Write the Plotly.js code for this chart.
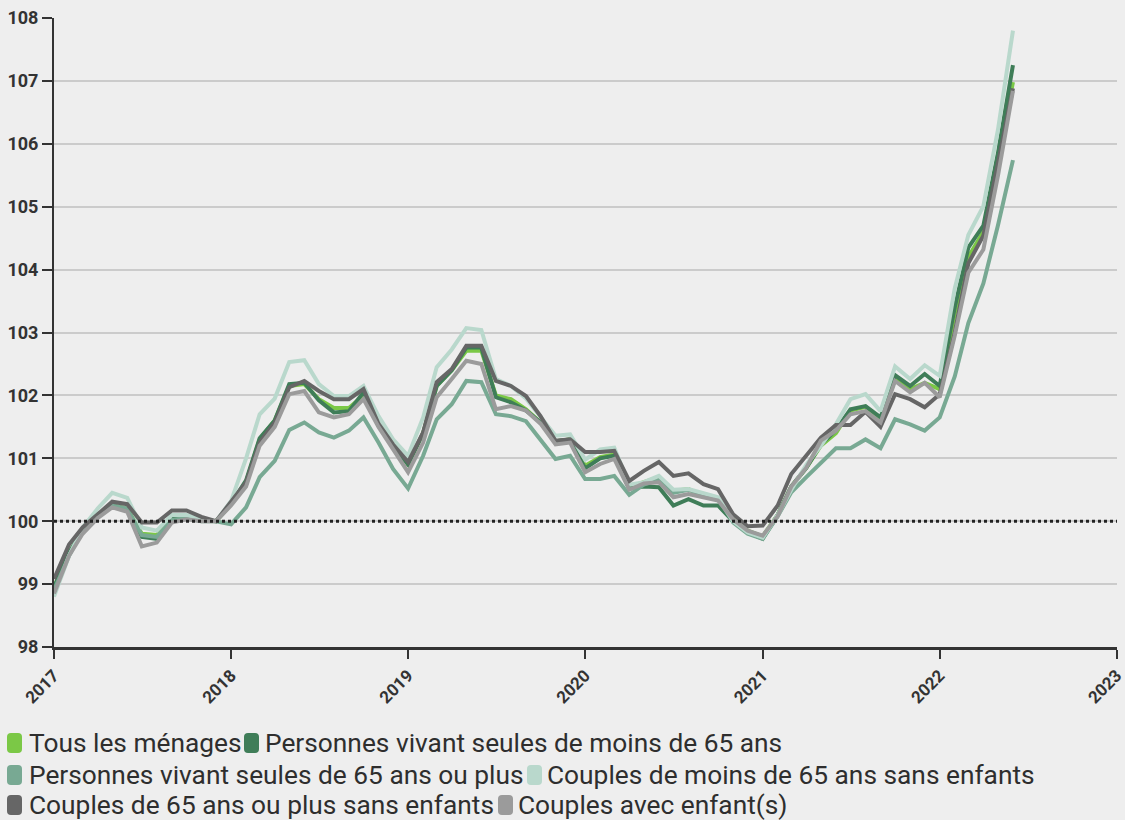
<!DOCTYPE html>
<html>
<head>
<meta charset="utf-8">
<script src="https://cdn.plot.ly/plotly-3.0.1.min.js"></script>
<style>
html,body{margin:0;padding:0;background:#eeeeee;}
#chart{width:1125px;height:820px;}
</style>
</head>
<body>
<div id="chart"></div>
<script>
// Monthly index, Jan 2017 .. Jun 2022
const startYear = 2017;
const nMonths = 66;
const months = [];
for (let i = 0; i < nMonths; i++) {
  const y = startYear + Math.floor(i / 12);
  const m = (i % 12) + 1;
  months.push(y + '-' + (m < 10 ? '0' + m : m) + '-01');
}

const seriesNames = [
  'Tous les ménages',
  'Personnes vivant seules de moins de 65 ans',
  'Personnes vivant seules de 65 ans ou plus',
  'Couples de moins de 65 ans sans enfants',
  'Couples de 65 ans ou plus sans enfants',
  'Couples avec enfant(s)'
];

const tousMenages = [
  98.95, 99.50, 99.85, 100.10, 100.25, 100.20, 99.80, 99.78, 100.05, 100.08, 100.02, 100.00,
  100.27, 100.62, 101.30, 101.60, 102.15, 102.18, 101.94, 101.80, 101.80, 102.00, 101.52, 101.20,
  100.90, 101.40, 102.15, 102.40, 102.71, 102.71, 102.00, 101.94, 101.78, 101.57, 101.27, 101.30,
  100.88, 101.02, 101.06, 100.54, 100.62, 100.70, 100.48, 100.51, 100.40, 100.35, 100.03, 99.85,
  99.76, 100.10, 100.55, 100.85, 101.20, 101.40, 101.76, 101.82, 101.62, 102.26, 102.10, 102.20,
  102.10, 103.30, 104.20, 104.60, 105.74, 106.98
];
const seulesMoins65 = [
  98.95, 99.50, 99.85, 100.10, 100.25, 100.18, 99.75, 99.72, 100.05, 100.08, 100.02, 100.00,
  100.28, 100.65, 101.32, 101.60, 102.18, 102.20, 101.92, 101.73, 101.75, 102.05, 101.52, 101.20,
  100.90, 101.40, 102.15, 102.40, 102.76, 102.76, 101.97, 101.89, 101.76, 101.57, 101.27, 101.30,
  100.84, 101.00, 101.04, 100.52, 100.55, 100.54, 100.25, 100.35, 100.25, 100.25, 100.00, 99.82,
  99.72, 100.10, 100.55, 100.85, 101.22, 101.45, 101.78, 101.83, 101.65, 102.32, 102.15, 102.34,
  102.15, 103.40, 104.35, 104.70, 105.85, 107.25
];
const seules65Plus = [
  98.90, 99.45, 99.85, 100.10, 100.25, 100.20, 99.78, 99.75, 100.02, 100.05, 100.00, 100.00,
  99.95, 100.22, 100.70, 100.96, 101.45, 101.57, 101.41, 101.33, 101.44, 101.65, 101.25, 100.83,
  100.52, 101.04, 101.62, 101.86, 102.23, 102.21, 101.70, 101.67, 101.59, 101.30, 100.99, 101.04,
  100.67, 100.67, 100.72, 100.42, 100.58, 100.66, 100.45, 100.50, 100.42, 100.37, 99.98, 99.80,
  99.72, 100.08, 100.46, 100.70, 100.93, 101.16, 101.16, 101.30, 101.16, 101.62, 101.54, 101.44,
  101.65, 102.30, 103.15, 103.78, 104.70, 105.74
];
const couplesMoins65 = [
  98.80, 99.45, 99.90, 100.20, 100.45, 100.37, 99.90, 99.85, 100.10, 100.10, 100.03, 100.00,
  100.32, 101.00, 101.70, 101.95, 102.53, 102.56, 102.18, 101.99, 101.99, 102.15, 101.67, 101.30,
  101.04, 101.65, 102.45, 102.73, 103.07, 103.04, 102.26, 102.15, 101.95, 101.67, 101.36, 101.38,
  100.98, 101.14, 101.17, 100.58, 100.62, 100.72, 100.50, 100.51, 100.45, 100.38, 100.00, 99.82,
  99.74, 100.10, 100.50, 100.90, 101.20, 101.54, 101.94, 102.02, 101.75, 102.46, 102.26, 102.48,
  102.31, 103.70, 104.55, 105.01, 106.22, 107.80
];
const couples65Plus = [
  99.08, 99.63, 99.90, 100.10, 100.31, 100.27, 99.98, 99.98, 100.17, 100.17, 100.07, 100.00,
  100.30, 100.62, 101.25, 101.57, 102.13, 102.23, 102.07, 101.94, 101.94, 102.10, 101.55, 101.22,
  100.94, 101.41, 102.21, 102.42, 102.79, 102.79, 102.23, 102.15, 101.99, 101.67, 101.28, 101.30,
  101.10, 101.10, 101.12, 100.64, 100.80, 100.94, 100.72, 100.76, 100.59, 100.51, 100.11, 99.92,
  99.93, 100.25, 100.75, 101.04, 101.33, 101.53, 101.53, 101.74, 101.50, 102.02, 101.94, 101.81,
  102.02, 103.00, 104.10, 104.54, 105.69, 106.88
];
const couplesEnfants = [
  98.85, 99.45, 99.80, 100.05, 100.22, 100.15, 99.60, 99.66, 99.98, 100.03, 100.00, 100.00,
  100.25, 100.55, 101.20, 101.50, 102.02, 102.07, 101.73, 101.65, 101.70, 101.94, 101.50, 101.15,
  100.78, 101.25, 101.97, 102.26, 102.55, 102.50, 101.78, 101.83, 101.76, 101.55, 101.22, 101.25,
  100.78, 100.91, 100.99, 100.50, 100.60, 100.62, 100.38, 100.43, 100.38, 100.33, 100.03, 99.85,
  99.77, 100.08, 100.55, 100.85, 101.28, 101.44, 101.70, 101.75, 101.57, 102.23, 102.05, 102.20,
  101.97, 102.95, 103.95, 104.32, 105.49, 106.84
];

const seriesValues = [tousMenages, seulesMoins65, seules65Plus, couplesMoins65, couples65Plus, couplesEnfants];
const seriesColors = ['#7bc846', '#3f7d58', '#78a993', '#b9d8cc', '#666666', '#9b9b9b'];

const yTicks = [98, 99, 100, 101, 102, 103, 104, 105, 106, 107, 108];
const xTicks = ['2017-01-01', '2018-01-01', '2019-01-01', '2020-01-01', '2021-01-01', '2022-01-01', '2023-01-01'];
const xTickText = ['2017', '2018', '2019', '2020', '2021', '2022', '2023'];
const referenceLevel = 100;

const traces = seriesValues.map((vals, i) => ({
  type: 'scatter',
  mode: 'lines',
  x: months,
  y: vals,
  name: seriesNames[i],
  line: {color: seriesColors[i], width: 4, shape: 'linear'},
  showlegend: false,
  hoverinfo: 'x+y+name'
}));

// geometry helpers for the custom legend (pixel -> paper)
const W = 1125, H = 820;
const M = {l: 54, r: 8, t: 18, b: 173};
const PW = W - M.l - M.r, PH = H - M.t - M.b;
const px = x => (x - M.l) / PW;
const py = y => (H - M.b - y) / PH;

function roundRect(x0, y0, x1, y1, r) {
  const X = v => px(v).toFixed(5), Y = v => py(v).toFixed(5);
  return 'M' + X(x0 + r) + ',' + Y(y0) +
    ' L' + X(x1 - r) + ',' + Y(y0) +
    ' Q' + X(x1) + ',' + Y(y0) + ' ' + X(x1) + ',' + Y(y0 + r) +
    ' L' + X(x1) + ',' + Y(y1 - r) +
    ' Q' + X(x1) + ',' + Y(y1) + ' ' + X(x1 - r) + ',' + Y(y1) +
    ' L' + X(x0 + r) + ',' + Y(y1) +
    ' Q' + X(x0) + ',' + Y(y1) + ' ' + X(x0) + ',' + Y(y1 - r) +
    ' L' + X(x0) + ',' + Y(y0 + r) +
    ' Q' + X(x0) + ',' + Y(y0) + ' ' + X(x0 + r) + ',' + Y(y0) + ' Z';
}

// legend layout: [series index, marker x, text x, row center y]
const legendItems = [
  [0, 7, 28, 743],
  [1, 244, 264, 743],
  [2, 7, 28, 775],
  [3, 527, 546, 775],
  [4, 7, 28, 805],
  [5, 498, 517, 805]
];

const shapes = [{
  type: 'line', xref: 'paper', x0: 0, x1: 1, yref: 'y', y0: referenceLevel, y1: referenceLevel,
  line: {color: '#222222', width: 3, dash: 'dot'}, layer: 'above'
}];
const annotations = [];
legendItems.forEach(([si, mx, tx, cy]) => {
  shapes.push({
    type: 'path', xref: 'paper', yref: 'paper',
    path: roundRect(mx, cy - 10, mx + 15, cy + 10, 4),
    fillcolor: seriesColors[si], line: {width: 0}
  });
  annotations.push({
    xref: 'paper', yref: 'paper', x: px(tx), y: py(cy),
    xanchor: 'left', yanchor: 'middle', showarrow: false,
    text: seriesNames[si],
    font: {family: 'Roboto, sans-serif', size: 26.3, color: '#2e2e2e'},
    borderpad: 0
  });
});

const layout = {
  width: W, height: H,
  margin: M,
  paper_bgcolor: '#eeeeee',
  plot_bgcolor: '#eeeeee',
  showlegend: false,
  font: {family: 'Roboto, sans-serif', color: '#333333'},
  xaxis: {
    type: 'date',
    range: ['2017-01-01', '2023-01-01 12:00'],
    tickmode: 'array', tickvals: xTicks, ticktext: xTickText,
    tickangle: -45,
    ticklabeloverflow: 'allow',
    ticks: 'outside', ticklen: 9, tickwidth: 2, tickcolor: '#333333',
    showline: true, linecolor: '#333333', linewidth: 3,
    showgrid: false, zeroline: false,
    tickfont: {family: 'Roboto, sans-serif', size: 17, color: '#333333', weight: 'bold'}
  },
  yaxis: {
    range: [98, 108],
    tickvals: yTicks,
    ticks: 'outside', ticklen: 10, tickwidth: 2, tickcolor: '#333333',
    showline: true, linecolor: '#333333', linewidth: 2,
    showgrid: true, gridcolor: '#cbcbcb', gridwidth: 2,
    zeroline: false,
    tickfont: {family: 'Roboto, sans-serif', size: 18, color: '#333333', weight: 'bold'}
  },
  shapes: shapes,
  annotations: annotations
};

Plotly.newPlot('chart', traces, layout, {displayModeBar: false, staticPlot: true});
</script>
</body>
</html>
